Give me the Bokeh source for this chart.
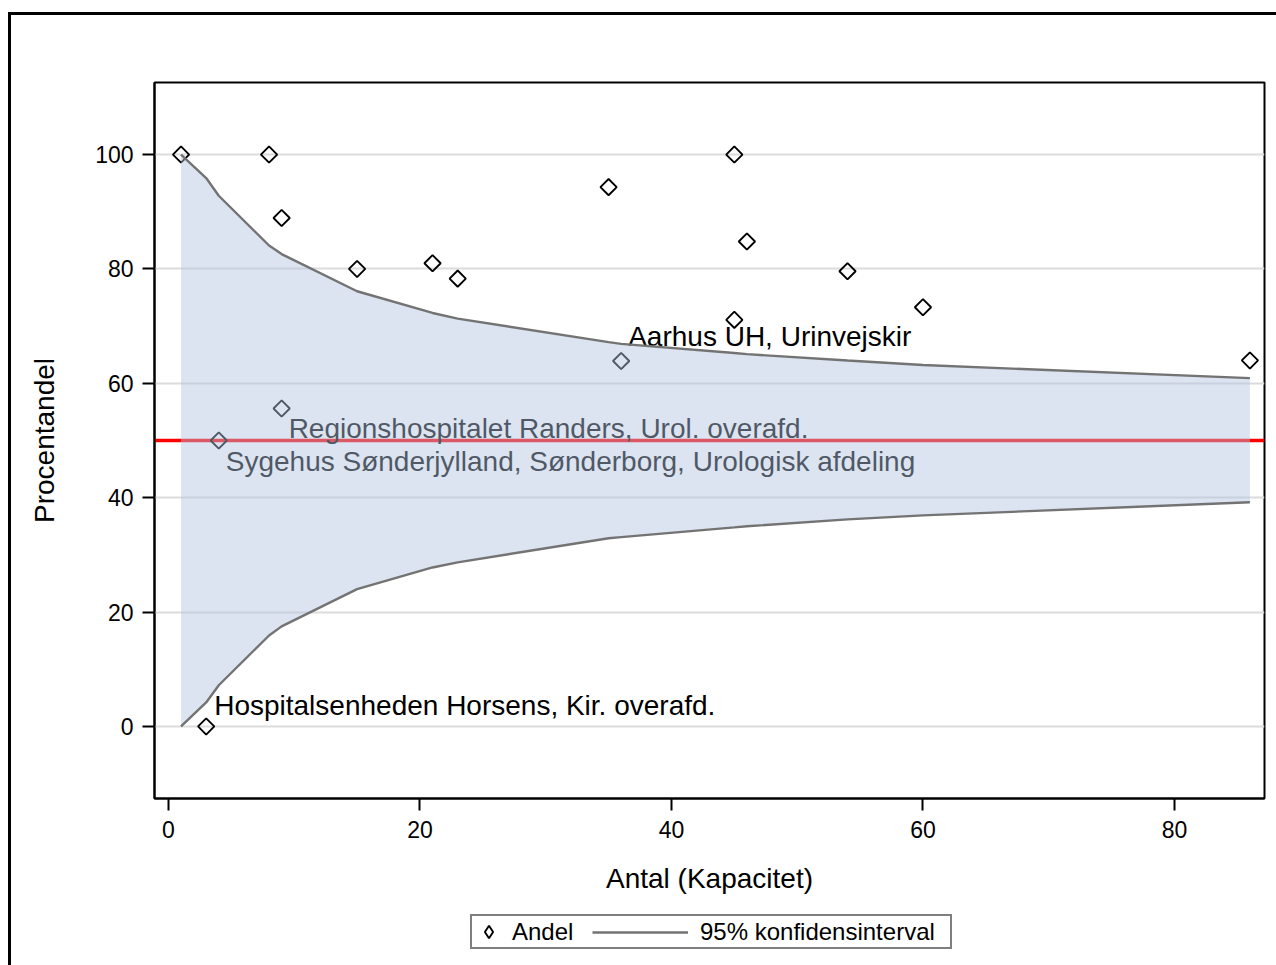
from bokeh.plotting import figure
from bokeh.layouts import column
from bokeh.models import (ColumnDataSource, Range1d, FixedTicker, Span, Legend,
                          LegendItem)
from bokeh.core.properties import value
from bokeh.embed import file_html
from bokeh.resources import INLINE
import numpy as np

# Afdelinger: antal (kapacitet), andel i procent, og navn hvor punktet er navngivet
antal = [1, 8, 9, 15, 21, 23, 35, 45, 46, 45, 54, 60, 86, 36, 9, 4, 3]
andel = [100.0, 100.0, 88.9, 80.0, 81.0, 78.3, 94.3, 100.0, 84.8, 71.1, 79.6, 73.3,
         64.0, 63.9, 55.6, 50.0, 0.0]
afdeling = ["", "", "", "", "", "", "", "", "", "", "", "", "",
            "Aarhus UH, Urinvejskir",
            "Regionshospitalet Randers, Urol. overafd.",
            "Sygehus Sønderjylland, Sønderborg, Urologisk afdeling",
            "Hospitalsenheden Horsens, Kir. overafd."]

# 95% konfidensinterval omkring 50 %
ci_antal = [1, 3, 4, 8, 9, 15, 21, 23, 35, 36, 45, 46, 54, 60, 86]
ci_nedre = [0.0, 4.2, 7.2, 15.9, 17.5, 24.0, 27.8, 28.7, 32.9, 33.1, 34.8, 35.0, 36.2, 36.9, 39.2]
ci_oevre = [100.0, 95.9, 92.8, 84.1, 82.6, 76.1, 72.3, 71.3, 67.2, 66.9, 65.3, 65.1, 64.0, 63.2, 60.9]

maal = 50
x_ticks = [0, 20, 40, 60, 80]
y_ticks = [0, 20, 40, 60, 80, 100]

FONT = "Liberation Sans"
BAND_LINE = "#737373"

# Thin black frame around the whole graphic (left and top edges are in view)
frame_css = ("linear-gradient(#000, #000) 8px 12px / 3px 100% no-repeat, "
             "linear-gradient(#000, #000) 8px 12px / 100% 3px no-repeat, #fff")

src = ColumnDataSource(dict(antal=antal, andel=andel, afdeling=afdeling))
ci_src = ColumnDataSource(dict(antal=ci_antal, nedre=ci_nedre, oevre=ci_oevre))

# ---------------------------------------------------------------- main chart
p = figure(width=1276, height=905, output_backend="svg", toolbar_location=None,
           title=None,
           x_range=Range1d(-1.11, 87.16), y_range=Range1d(-12.6, 112.6),
           min_border_left=154, min_border_right=12,
           min_border_top=82, min_border_bottom=107,
           background_fill_color="white", border_fill_color=None)

p.outline_line_color = "black"
p.outline_line_width = 2
p.outline_line_alpha = 1

p.xgrid.visible = False
p.ygrid.grid_line_color = "#dcdcdc"
p.ygrid.grid_line_width = 2

for ax in (p.xaxis, p.yaxis):
    ax.axis_line_color = "black"
    ax.axis_line_width = 2
    ax.major_tick_line_color = "black"
    ax.major_tick_line_width = 2
    ax.major_tick_in = 0
    ax.minor_tick_line_color = None
    ax.major_label_text_font = FONT
    ax.major_label_text_font_size = "23px"
    ax.major_label_text_color = "black"
    ax.axis_label_text_font = FONT
    ax.axis_label_text_font_size = "28px"
    ax.axis_label_text_font_style = "normal"
    ax.axis_label_text_color = "black"

p.xaxis.ticker = FixedTicker(ticks=x_ticks)
p.yaxis.ticker = FixedTicker(ticks=y_ticks)
p.xaxis.major_tick_out = 12
p.yaxis.major_tick_out = 12
p.xaxis.major_label_standoff = 10
p.yaxis.major_label_standoff = 9
p.xaxis.axis_label = "Antal (Kapacitet)"
p.yaxis.axis_label = "Procentandel"
p.xaxis.axis_label_standoff = 22
p.yaxis.axis_label_standoff = 32

# Reference line at 50 %, drawn beneath the band
p.add_layout(Span(location=maal, dimension="width", line_color="#ff0000",
                  line_width=3.5, level="underlay"))

pts = p.scatter("antal", "andel", source=src, marker="square", angle=np.pi / 4,
                size=11.5, fill_color=None, line_color="black", line_width=1.9)

# Named departments, offset from their point (pixels)
placering = {
    "Aarhus UH, Urinvejskir": (7, -25),
    "Regionshospitalet Randers, Urol. overafd.": (7, 20),
    "Sygehus Sønderjylland, Sønderborg, Urologisk afdeling": (7, 21),
    "Hospitalsenheden Horsens, Kir. overafd.": (8, -21),
}
lab = dict(antal=[], andel=[], afdeling=[], dx=[], dy=[])
for a, v, n in zip(antal, andel, afdeling):
    if n:
        lab["antal"].append(a)
        lab["andel"].append(v)
        lab["afdeling"].append(n)
        lab["dx"].append(placering[n][0])
        lab["dy"].append(placering[n][1])
p.text("antal", "andel", text="afdeling", source=ColumnDataSource(lab),
       x_offset="dx", y_offset="dy", text_font=value(FONT),
       text_font_size="28px", text_color="black", text_baseline="alphabetic",
       text_align="left")

# Confidence band on top, semi-transparent
p.varea("antal", "nedre", "oevre", source=ci_src, fill_color="#b0c4de", fill_alpha=0.45)
p.line("antal", "oevre", source=ci_src, line_color=BAND_LINE, line_width=2.4)
p.line("antal", "nedre", source=ci_src, line_color=BAND_LINE, line_width=2.4)

# ---------------------------------------------------------------- legend strip
# Hidden renderers in this strip only supply the legend keys.
lg = figure(width=1276, height=60, output_backend="svg", toolbar_location=None,
            title=None, x_axis_type=None, y_axis_type=None,
            x_range=Range1d(0, 1), y_range=Range1d(0, 1),
            min_border_left=154, min_border_right=12,
            min_border_top=5, min_border_bottom=5,
            background_fill_color=None, border_fill_color=None)
lg.outline_line_color = None
lg.xgrid.visible = False
lg.ygrid.visible = False

key_pts = lg.scatter("antal", "andel", source=src, marker="diamond", size=13,
                     fill_color=None, line_color="black", line_width=1.9,
                     visible=False)
key_line = lg.line("antal", "oevre", source=ci_src, line_color=BAND_LINE,
                   line_width=2.4, visible=False)

common = dict(orientation="horizontal", padding=0, spacing=0, margin=0,
              inactive_fill_alpha=0,
              label_text_font=FONT, label_text_font_size="24px",
              label_text_color="black")
# Boxed entry for the markers; its label slot is wide enough to hold the
# interval entry, which is laid over it.
leg_a = Legend(items=[LegendItem(label="Andel", renderers=[key_pts])],
               location=(316, 11), glyph_width=33, glyph_height=31,
               label_standoff=7, label_width=438,
               border_line_color="black", border_line_width=2,
               background_fill_color="white", background_fill_alpha=1,
               **common)
leg_b = Legend(items=[LegendItem(label="95% konfidensinterval", renderers=[key_line])],
               location=(438, 14.5), glyph_width=96, glyph_height=20,
               label_standoff=12, border_line_color=None,
               background_fill_alpha=0, **common)
lg.add_layout(leg_a)
lg.add_layout(leg_b)

page = column(p, lg, spacing=0, styles={"background": frame_css})

open("out.html", "w").write(file_html(page, INLINE))
